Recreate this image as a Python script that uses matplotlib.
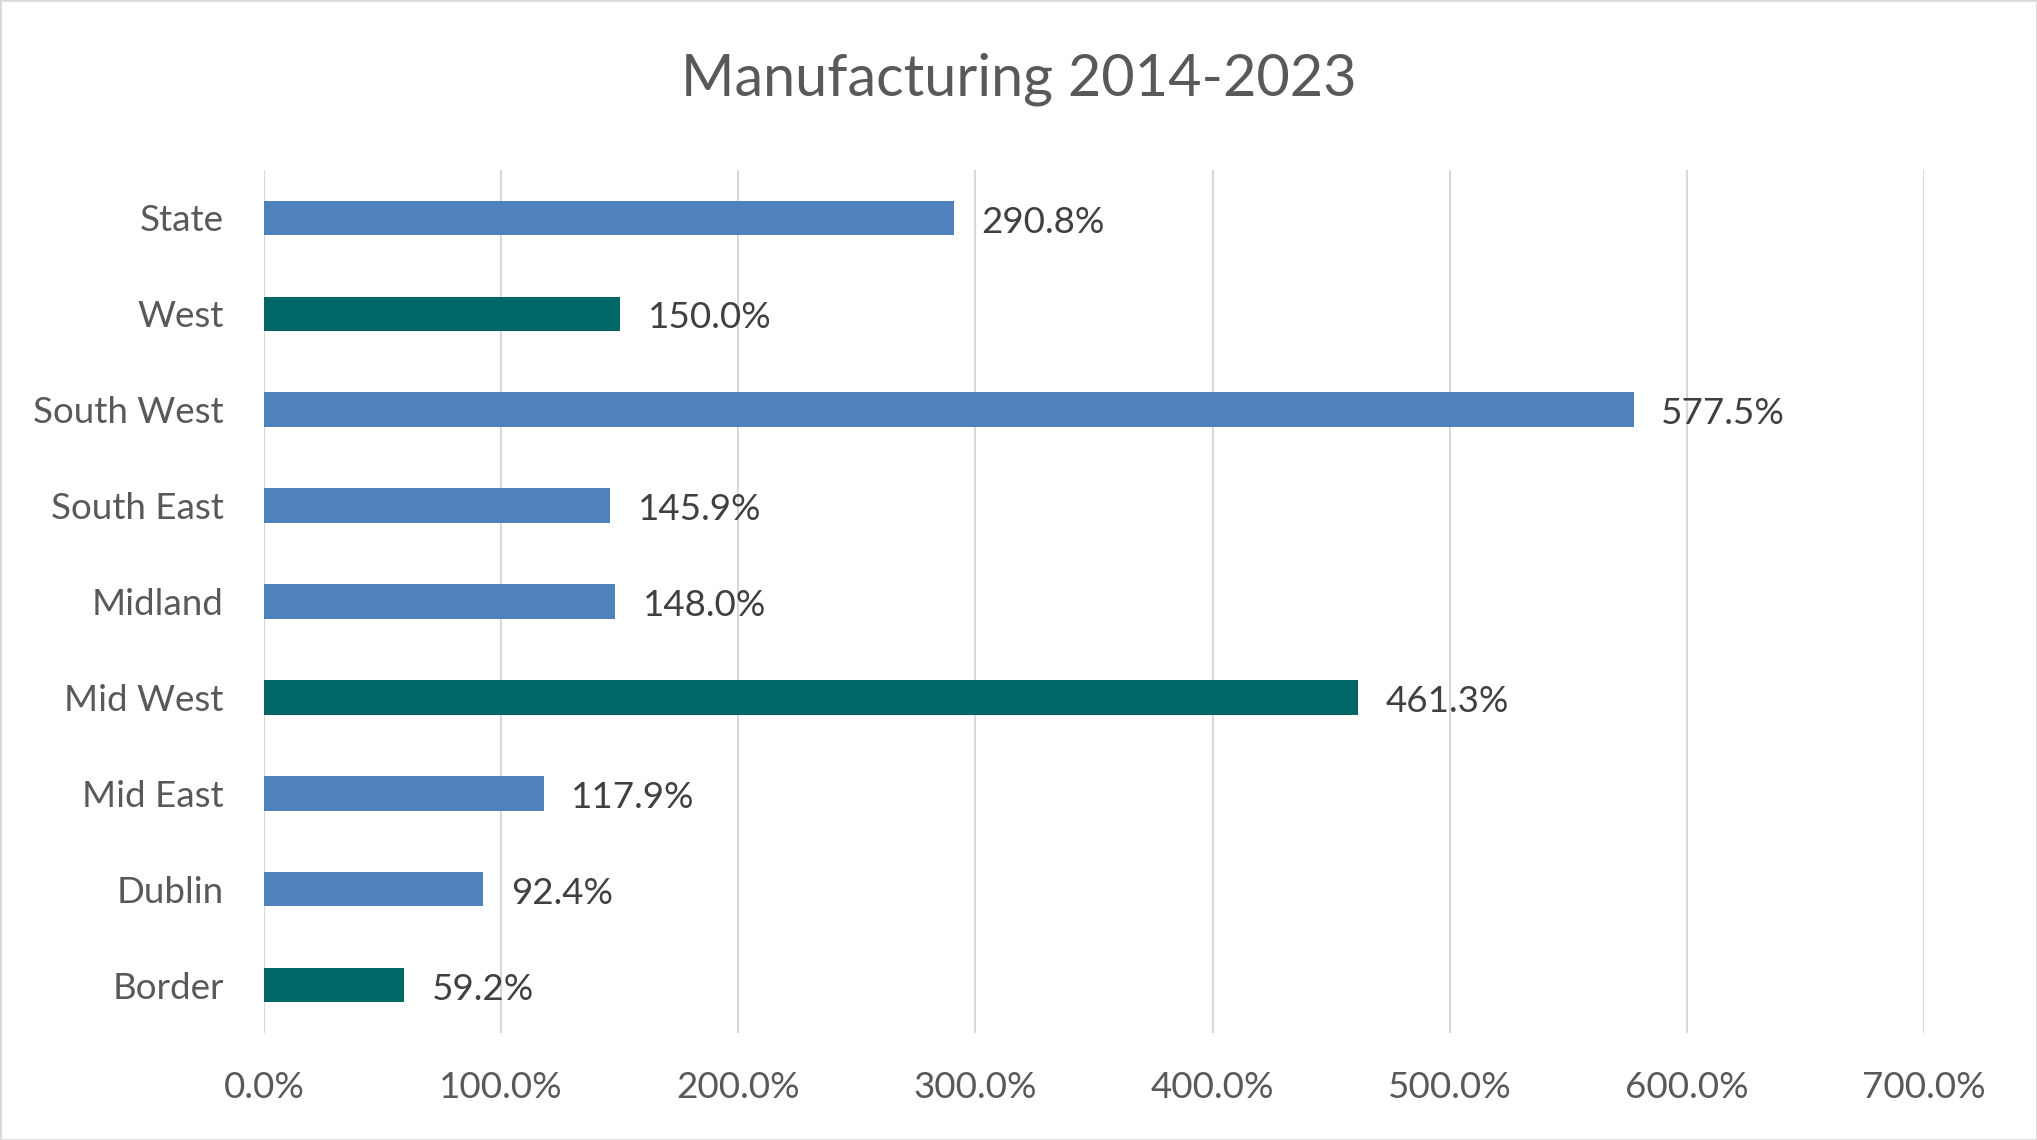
import matplotlib.pyplot as plt
from matplotlib.patches import Rectangle

# values (percent change 2014-2023)
regions = ["State", "West", "South West", "South East", "Midland",
           "Mid West", "Mid East", "Dublin", "Border"]
change = [290.8, 150.0, 577.5, 145.9, 148.0, 461.3, 117.9, 92.4, 59.2]
western = ["West", "Mid West", "Border"]

blue = "#4F81BD"
teal = "#006666"
grey_text = "#595959"
dark_text = "#404040"
grid_col = "#D9D9D9"

plt.rcParams['font.family'] = ['Lato', 'DejaVu Sans']

fig = plt.figure(figsize=(20.37, 11.40), dpi=100)
ax = fig.add_axes([264 / 2037, 1 - 1033 / 1140, (1924 - 264) / 2037, (1033 - 170) / 1140])

colores = [teal if r in western else blue for r in regions]
pos = list(range(len(regions)))
barras = ax.barh(pos, change, height=0.36, color=colores, zorder=3)

for b, v in zip(barras, change):
  ax.annotate("%.1f%%" % v, (b.get_width(), b.get_y() + b.get_height() / 2),
              xytext=(20, -3), textcoords="offset points", va="center", ha="left",
              fontsize=26.5, color=dark_text)

ax.set_xlim(0, 700)
ax.set_ylim(len(regions) - 0.5, -0.5)
ax.set_xticks(range(0, 701, 100))
ax.set_xticklabels(["%.1f%%" % t for t in range(0, 701, 100)])
ax.set_yticks(pos)
ax.set_yticklabels(regions)
ax.tick_params(axis="x", length=0, pad=27, labelsize=26.5, labelcolor=grey_text)
ax.tick_params(axis="y", length=0, pad=29, labelsize=26.5, labelcolor=grey_text)
ax.grid(axis="x", color=grid_col, linewidth=1.5, zorder=0)
for s in ax.spines.values():
  s.set_visible(False)

fig.text(0.5, 1 - 79 / 1140, "Manufacturing 2014-2023", ha="center", va="center",
         fontsize=41.5, color=grey_text)

fig.patches.append(Rectangle((0, 0), 1, 1, transform=fig.transFigure, fill=False,
                             edgecolor=grid_col, linewidth=2))

fig.savefig("out.png", dpi=100)
plt.close()
